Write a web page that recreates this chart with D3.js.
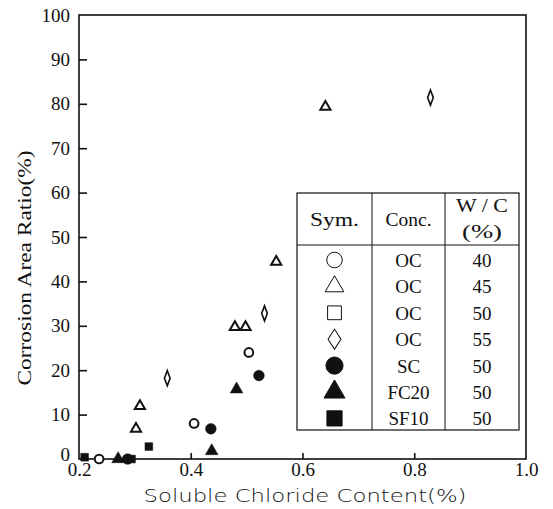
<!DOCTYPE html>
<html>
<head>
<meta charset="utf-8">
<script src="https://cdn.jsdelivr.net/npm/d3@7"></script>
<style>
  body { margin: 0; background: #fff; }
  text { fill: #111; }
</style>
</head>
<body>
<svg width="553" height="509"></svg>
<script>
// series: [chloride %, corrosion area %]
var oc40 = [[0.236, 0], [0.406, 8.0], [0.504, 24.0]];
var oc45 = [[0.302, 6.8], [0.309, 11.9], [0.479, 29.7], [0.498, 29.7], [0.553, 44.4], [0.641, 79.3]];
var oc50 = [];
var oc55 = [[0.358, 18.2], [0.532, 32.8], [0.829, 81.4]];
var sc50 = [[0.287, 0], [0.436, 6.8], [0.522, 18.8]];
var fc20 = [[0.270, 0], [0.4375, 1.8], [0.482, 15.7]];
var sf10 = [[0.21, 0.4], [0.294, 0], [0.325, 2.8]];

var xTicks = [0.2, 0.4, 0.6, 0.8, 1.0];
var yTicks = [0, 10, 20, 30, 40, 50, 60, 70, 80, 90, 100];

var legendSym = ['circle', 'triangle', 'square', 'diamond', 'circle', 'triangle', 'square'];
var legendFill = [false, false, false, false, true, true, true];
var legendConc = ['OC', 'OC', 'OC', 'OC', 'SC', 'FC20', 'SF10'];
var legendWC = ['40', '45', '50', '55', '50', '50', '50'];

var svg = d3.select('svg');
var plotL = 79, plotR = 526, plotT = 15, plotB = 459;

var x = d3.scaleLinear().domain([0.2, 1.0]).range([plotL, plotR]);
var y = d3.scaleLinear().domain([0, 100]).range([plotB, plotT]);

var serif = '"Liberation Serif", "DejaVu Serif", serif';

// frame
svg.append('rect')
  .attr('x', plotL).attr('y', plotT)
  .attr('width', plotR - plotL).attr('height', plotB - plotT)
  .attr('fill', 'none').attr('stroke', '#111').attr('stroke-width', 1.6);

// y axis, ticks pointing inward
var yAxis = svg.append('g')
  .attr('transform', 'translate(' + plotL + ',0)')
  .call(d3.axisLeft(y).tickValues(yTicks).tickSizeInner(-8).tickSizeOuter(0).tickPadding(9)
    .tickFormat(d3.format('d')));
yAxis.select('.domain').remove();
yAxis.selectAll('line').attr('stroke', '#111').attr('stroke-width', 1.6)
  .filter(function(d) { return d === 0 || d === 100; }).remove();
yAxis.selectAll('text').attr('font-family', serif).attr('font-size', 19).attr('fill', '#111');
// the 0 sits a little above the corner so it clears 0.2
yAxis.selectAll('text').filter(function(d) { return d === 0; }).attr('y', -5);

// x axis
var xAxis = svg.append('g')
  .attr('transform', 'translate(0,' + plotB + ')')
  .call(d3.axisBottom(x).tickValues(xTicks).tickSizeInner(-6).tickSizeOuter(0).tickPadding(4)
    .tickFormat(d3.format('.1f')));
xAxis.select('.domain').remove();
xAxis.selectAll('line').attr('stroke', '#111').attr('stroke-width', 1.6)
  .filter(function(d) { return d === 0.2 || d === 1.0; }).remove();
xAxis.selectAll('text').attr('font-family', serif).attr('font-size', 19).attr('fill', '#111');

// axis titles
svg.append('text')
  .attr('transform', 'translate(31,268) rotate(-90)')
  .attr('text-anchor', 'middle')
  .attr('font-family', serif).attr('font-size', 19)
  .attr('textLength', 235).attr('lengthAdjust', 'spacingAndGlyphs')
  .text('Corrosion Area Ratio(%)');

svg.append('text')
  .attr('x', 305).attr('y', 502)
  .attr('text-anchor', 'middle')
  .attr('font-family', '"DejaVu Sans", sans-serif').attr('font-size', 18)
  .attr('font-weight', 300)
  .attr('textLength', 323).attr('lengthAdjust', 'spacingAndGlyphs')
  .text('Soluble Chloride Content(%)');

// marker shapes
var symType = {
  circle: d3.symbolCircle,
  triangle: d3.symbolTriangle,
  square: d3.symbolSquare,
  diamond: d3.symbolDiamond
};

var drawSeries = function(data, shape, filled, size) {
  var sym = d3.symbol().type(symType[shape]).size(size);
  svg.append('g').selectAll('path')
    .data(data)
    .enter()
    .append('path')
    .attr('transform', function(d) {
      var sx = shape === 'diamond' ? 'scale(0.75,1.15)' : '';
      return 'translate(' + x(d[0]) + ',' + y(d[1]) + ')' + sx;
    })
    .attr('d', sym)
    .attr('fill', filled ? '#111' : '#fff')
    .attr('stroke', '#111')
    .attr('stroke-width', filled ? 0.5 : 2);
};

drawSeries(oc40, 'circle', false, 60);
drawSeries(oc45, 'triangle', false, 45);
drawSeries(oc50, 'square', false, 60);
drawSeries(oc55, 'diamond', false, 50);
drawSeries(sc50, 'circle', true, 90);
drawSeries(fc20, 'triangle', true, 70);
drawSeries(sf10, 'square', true, 60);

// legend table
var lx = 297, ly = 193, lw = 222, lh = 237;
var col1 = 372, col2 = 445, headBottom = 245, rowH = 26.4;
var lg = svg.append('g');
lg.append('rect')
  .attr('x', lx).attr('y', ly).attr('width', lw).attr('height', lh)
  .attr('fill', '#fff').attr('stroke', '#111').attr('stroke-width', 1.2);
[col1, col2].forEach(function(cx) {
  lg.append('line').attr('x1', cx).attr('x2', cx).attr('y1', ly).attr('y2', ly + lh)
    .attr('stroke', '#111').attr('stroke-width', 1);
});
lg.append('line').attr('x1', lx).attr('x2', lx + lw).attr('y1', headBottom).attr('y2', headBottom)
  .attr('stroke', '#111').attr('stroke-width', 1.2);

var cellText = function(tx, ty, s, len) {
  var t = lg.append('text').attr('x', tx).attr('y', ty).attr('text-anchor', 'middle')
    .attr('font-family', serif).attr('font-size', 19).text(s);
  if (len) t.attr('textLength', len).attr('lengthAdjust', 'spacingAndGlyphs');
};
cellText((lx + col1) / 2, 226, 'Sym.', 49);
cellText((col1 + col2) / 2, 226, 'Conc.', 46);
cellText((col2 + lx + lw) / 2, 212, 'W / C', 52);
cellText((col2 + lx + lw) / 2, 238, '(%)', 40);

legendSym.forEach(function(s, i) {
  var cy = 260 + i * rowH;
  var size = s === 'triangle' ? 150 : (s === 'diamond' ? 130 : 190);
  var sym = d3.symbol().type(symType[s]).size(legendFill[i] ? size + 40 : size);
  lg.append('path')
    .attr('transform', 'translate(' + (lx + col1) / 2 + ',' + cy + ')' + (s === 'diamond' ? 'scale(1.05,0.95)' : ''))
    .attr('d', sym)
    .attr('fill', legendFill[i] ? '#111' : '#fff')
    .attr('stroke', '#111').attr('stroke-width', 1);
  cellText((col1 + col2) / 2, cy + 7, legendConc[i]);
  cellText((col2 + lx + lw) / 2, cy + 7, legendWC[i]);
});
</script>
</body>
</html>
